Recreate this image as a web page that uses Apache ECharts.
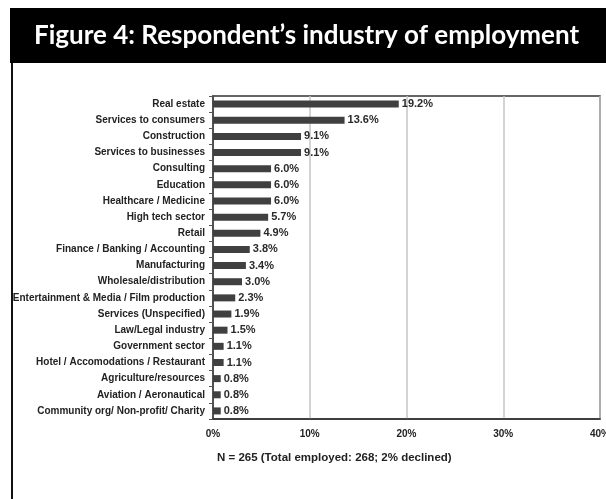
<!DOCTYPE html>
<html>
<head>
<meta charset="utf-8">
<script src="https://cdn.jsdelivr.net/npm/echarts@6/dist/echarts.min.js"></script>
<style>
  html, body { margin: 0; padding: 0; background: #fff; }
  #chart { width: 606px; height: 499px; }
</style>
</head>
<body>
<div id="chart"></div>
<script>
// Industries, top to bottom
const industries = [
  'Real estate',
  'Services to consumers',
  'Construction',
  'Services to businesses',
  'Consulting',
  'Education',
  'Healthcare / Medicine',
  'High tech sector',
  'Retail',
  'Finance / Banking / Accounting',
  'Manufacturing',
  'Wholesale/distribution',
  'Entertainment & Media / Film production',
  'Services (Unspecified)',
  'Law/Legal industry',
  'Government sector',
  'Hotel / Accomodations / Restaurant',
  'Agriculture/resources',
  'Aviation / Aeronautical',
  'Community org/ Non-profit/ Charity'
];

// Share of respondents (%)
const shares = [19.2, 13.6, 9.1, 9.1, 6.0, 6.0, 6.0, 5.7, 4.9, 3.8, 3.4, 3.0, 2.3, 1.9, 1.5, 1.1, 1.1, 0.8, 0.8, 0.8];

// Percentage axis ticks
const xTicks = [0, 10, 20, 30, 40];

const titleText = 'Figure 4: Respondent\u2019s industry of employment';
const noteText = 'N = 265 (Total employed: 268; 2% declined)';

const chart = echarts.init(document.getElementById('chart'), null, { renderer: 'canvas' });
const labelFont = 'Liberation Sans, Arial, sans-serif';

chart.setOption({
  animation: false,
  backgroundColor: '#ffffff',
  grid: {
    left: 213, right: 6, top: 96, bottom: 80,
    show: true, borderColor: '#333333', borderWidth: 1.5,
    containLabel: false,
    outerBoundsMode: 'none'
  },
  xAxis: {
    type: 'value',
    min: xTicks[0], max: xTicks[xTicks.length - 1], interval: 10,
    axisLine: { show: true, lineStyle: { color: '#333333', width: 1.5 } },
    axisTick: { show: false },
    splitLine: { show: true, lineStyle: { color: '#c4c4c4', width: 1.5 } },
    axisLabel: {
      formatter: v => v + '%',
      fontFamily: labelFont, fontWeight: 'bold', fontSize: 10,
      color: '#222', margin: 10
    }
  },
  yAxis: {
    type: 'category',
    inverse: true,
    data: industries,
    axisLine: { show: true, lineStyle: { color: '#333333', width: 1.5 } },
    axisTick: { show: true, inside: false, length: 4, lineStyle: { color: '#555' } },
    axisLabel: {
      fontFamily: labelFont, fontWeight: 'bold', fontSize: 10,
      color: '#222', margin: 8
    }
  },
  series: [{
    type: 'bar',
    data: shares,
    barWidth: 7,
    itemStyle: { color: '#404040' },
    label: {
      show: true, position: 'right', distance: 3,
      formatter: p => p.value.toFixed(1) + '%',
      fontFamily: labelFont, fontWeight: 'bold', fontSize: 11,
      color: '#2a2a2a'
    }
  }],
  graphic: [
    {
      type: 'rect', left: 10, top: 8,
      shape: { width: 596, height: 55 },
      style: { fill: '#000000' }, z: 10
    },
    {
      type: 'text', left: 34, top: 23,
      style: {
        text: titleText,
        font: 'bold 26px Lato, "Open Sans", sans-serif',
        fill: '#ffffff'
      }, z: 11
    },
    {
      type: 'rect', left: 11, top: 63,
      shape: { width: 2, height: 436 },
      style: { fill: '#111111' }, z: 10
    },
    {
      type: 'rect', left: 0, top: 63,
      shape: { width: 11, height: 436 },
      style: { fill: '#ffffff' }, z: 9
    },
    {
      type: 'text', left: 217, top: 452,
      style: {
        text: noteText,
        font: 'bold 11.5px "Liberation Sans", Arial, sans-serif',
        fill: '#222'
      }, z: 11
    }
  ]
});
</script>
</body>
</html>
